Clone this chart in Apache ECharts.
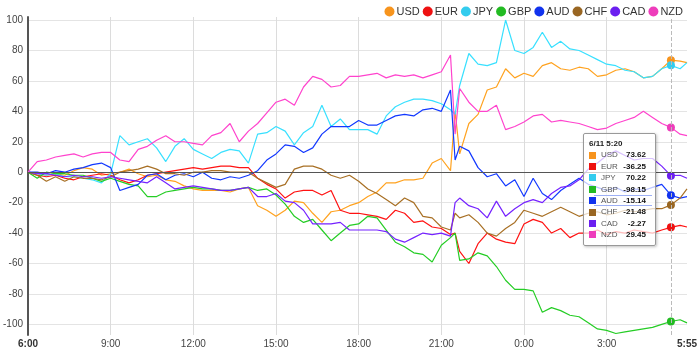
<!DOCTYPE html>
<html>
<head>
<meta charset="utf-8">
<script src="https://cdn.jsdelivr.net/npm/echarts@6/dist/echarts.min.js"></script>
<style>
  html, body { margin: 0; padding: 0; background: #fff; }
  #chart { width: 700px; height: 354px; }
</style>
</head>
<body>
<div id="chart"></div>
<script>
// minutes after 6:00 (6/10 6:00 .. 6/11 5:55)
const minutes = [0, 20, 40, 60, 80, 100, 120, 140, 160, 180, 200, 220, 240, 260, 280, 300, 320, 340, 360,
  380, 400, 420, 440, 460, 480, 500, 520, 540, 560, 580, 600, 620, 640, 660, 680, 700, 720,
  740, 760, 780, 800, 820, 840, 860, 880, 900, 920, 930,
  940, 960, 980, 1000, 1020, 1040, 1060, 1080,
  1100, 1120, 1140, 1160, 1180, 1200, 1220, 1240, 1260, 1280, 1300, 1320, 1340, 1360, 1380, 1400, 1420,
  1435];

const usd = [0, -1, -2, -1, -2, 1, 3, 2, -2, -1, 0, 2, -1, -3, -2, -5, -6, -9, -11,
  -12, -12, -12, -13, -11, -10, -22, -25, -29, -25, -19, -20, -27, -33, -26, -25, -22, -20,
  -16, -13, -7, -7, -5, -5, -4, 6, 9, 1, 40,
  12, 32, 38, 54, 56, 68, 62, 65,
  63, 70, 72, 68, 67, 69, 68, 63, 64, 67, 68, 66, 62, 63, 68, 73.62, 73,
  72];
const eur = [0, -2, -3, -2, -4, -5, -3, -2, -1, -2, -5, -7, -5, -2, -1, 0, 1, 2, 3,
  2, 3, 4, 4, 3, 3, -4, -8, -11, -17, -13, -12, -12, -15, -12, -25, -27, -27,
  -28, -29, -31, -25, -27, -33, -32, -36, -37, -41, -40,
  -52, -60, -47, -40, -44, -46, -47, -34,
  -31, -33, -40, -37, -43, -40, -40, -38, -41, -39, -40, -38, -39, -40, -38, -36.25, -35,
  -36];
const jpy = [0, -1, -2, -1, -3, -3, -4, -5, -7, -1, 24, 18, 20, 22, 16, 7, 17, 22, 15,
  12, 9, 13, 15, 14, 6, 25, 26, 30, 27, 18, 26, 30, 44, 30, 35, 28, 28,
  28, 25, 37, 43, 46, 48, 48, 47, 45, 41, 38,
  57, 78, 71, 70, 72, 100, 80, 78,
  82, 92, 82, 86, 81, 80, 77, 74, 71, 70, 67, 66, 62, 63, 68, 70.22, 68,
  72];
const gbp = [0, -4, 0, -1, -1, -2, -2, -4, -6, -4, -6, -8, -9, -16, -16, -13, -12, -11, -10,
  -11, -11, -12, -12, -11, -10, -12, -11, -15, -21, -29, -33, -31, -38, -45, -40, -35, -34,
  -29, -30, -38, -46, -49, -53, -54, -59, -48, -43, -40,
  -58, -57, -53, -55, -62, -71, -77, -77,
  -78, -92, -89, -91, -94, -95, -99, -103, -104, -106, -105, -104, -103, -102, -100, -98.15, -97,
  -99];
const aud = [0, 0, -1, 1, 0, 2, 3, 5, 6, 3, -12, -10, -8, -2, -1, -5, -2, -1, -3,
  0, -4, -5, -3, -4, -2, 1, 8, 12, 18, 17, 13, 16, 25, 30, 30, 30, 34,
  31, 31, 34, 37, 38, 37, 41, 42, 40, 54, 8,
  17, 14, 3, -3, -1, -9, -5, -16,
  -4, -14, -18, -12, -8, -4, -8, -10, -12, -10, -13, -11, -12, -10, -8, -15.14, -17,
  -16];
const chf = [0, -2, -6, -3, -6, -3, -4, -4, -5, -3, 0, 1, 2, 4, 2, -1, -1, -2, 0,
  0, 1, 1, 0, 0, 0, -4, -7, -10, -8, 2, 4, 4, 2, -2, -4, -2, -6,
  -11, -14, -18, -22, -17, -20, -29, -30, -36, -38, -27,
  -30, -28, -33, -40, -42, -37, -33, -25,
  -27, -29, -26, -23, -26, -29, -27, -26, -28, -27, -25, -26, -25, -24, -24, -21.48, -17,
  -11];
const cad = [0, -1, -1, -2, -3, -2, -3, -3, -4, -3, -4, -5, -6, -7, -3, -7, -11, -10, -9,
  -10, -11, -12, -12, -11, -10, -16, -16, -14, -19, -20, -25, -34, -34, -34, -33, -38, -38,
  -38, -38, -39, -44, -46, -43, -40, -41, -40, -42, -20,
  -17, -22, -24, -30, -19, -29, -24, -20,
  -18, -20, -14, -10, -9, -5, 2, 6, 11, 14, 11, 8, 9, 9, 4, -2.27, -2,
  -4];
const nzd = [0, 7, 8, 10, 11, 12, 10, 12, 13, 13, 8, 7, 15, 17, 21, 24, 20, 20, 19,
  18, 24, 26, 32, 20, 27, 32, 39, 46, 48, 44, 56, 63, 61, 56, 57, 63, 63,
  64, 65, 62, 64, 63, 64, 62, 64, 66, 77, 25,
  55, 46, 40, 40, 44, 28, 30, 33,
  37, 38, 33, 34, 33, 32, 30, 28, 29, 32, 34, 36, 40, 36, 32, 29.45, 25,
  24];

const names = ['USD', 'EUR', 'JPY', 'GBP', 'AUD', 'CHF', 'CAD', 'NZD'];
const colors = ['#f7941d', '#ee1111', '#33ccee', '#22bb22', '#1133ee', '#996622', '#6b1ff0', '#ee3dbb'];
const seriesValues = [usd, eur, jpy, gbp, aud, chf, cad, nzd];

const yTicks = [-100, -80, -60, -40, -20, 0, 20, 40, 60, 80, 100];
const xLabelMinutes = [0, 180, 360, 540, 720, 900, 1080, 1260, 1435];
const xGridMinutes = [180, 360, 540, 720, 900, 1080, 1260];
const tipIndex = 71; // 6/11 5:20

function clock(m) {
  var t = (360 + m) % 1440;
  var h = Math.floor(t / 60), mm = t % 60;
  return h + ':' + (mm < 10 ? '0' : '') + mm;
}

var font = '"Liberation Sans", Arial, sans-serif';
var cssFont = "'Liberation Sans', Arial, sans-serif";
var chart = echarts.init(document.getElementById('chart'));

var series = names.map(function (name, si) {
  var s = {
    name: name,
    type: 'line',
    data: minutes.map(function (m, i) { return [m, seriesValues[si][i]]; }),
    showSymbol: false,
    symbol: 'circle',
    symbolSize: 8,
    color: colors[si],
    itemStyle: {color: colors[si], borderWidth: 0},
    lineStyle: {width: 1.2, color: colors[si]},
    emphasis: {scale: false, itemStyle: {borderWidth: 0}, lineStyle: {width: 1.2}},
    animation: false
  };
  if (si === 0) {
    // dark zero line
    s.markLine = {
      silent: true,
      symbol: 'none',
      label: {show: false},
      lineStyle: {color: '#555', width: 1, type: 'solid'},
      data: [{yAxis: 0}]
    };
  }
  return s;
});

function tipRow(p) {
  var rule = '';
  if (p.seriesName === 'AUD') {
    // hovered series gets a rule above and below its row
    rule = '<span style="position:absolute;left:5px;right:-6px;top:0;border-top:1px solid #9db0f5"></span>' +
      '<span style="position:absolute;left:5px;right:-6px;bottom:0;border-top:1px solid #9db0f5"></span>';
  }
  return '<div style="position:relative;height:11.4px;line-height:11.4px">' + rule +
    '<span style="position:absolute;left:0;top:2.2px;width:7px;height:7px;background:' + p.color + '"></span>' +
    '<span style="position:absolute;left:12px;color:#555">' + p.seriesName + '</span>' +
    '<span style="position:absolute;right:0;font-weight:bold;color:#111">' + p.value[1].toFixed(2) + '</span></div>';
}

chart.setOption({
  animation: false,
  backgroundColor: '#fff',
  textStyle: {fontFamily: font},
  grid: {left: 24, right: 12, top: 17, bottom: 19},
  legend: {
    data: names,
    right: 12,
    top: 1,
    icon: 'circle',
    itemWidth: 10,
    itemHeight: 10,
    itemGap: 3,
    textStyle: {fontSize: 11, color: '#333', fontFamily: font, padding: [0, 0, 0, -3]}
  },
  tooltip: {
    trigger: 'axis',
    triggerOn: 'none',
    alwaysShowContent: true,
    position: [583, 133],
    padding: [4, 9, 4, 5],
    backgroundColor: 'rgba(255,255,255,0.72)',
    borderColor: '#999',
    borderWidth: 1,
    extraCssText: 'border-radius:2px;box-shadow:1px 1px 3px rgba(0,0,0,0.25);',
    axisPointer: {type: 'line', lineStyle: {color: '#bbb', width: 1}},
    formatter: function (params) {
      var html = '<div style="font-weight:bold;color:#222;height:11.4px;line-height:11.4px">6/11 ' + clock(params[0].value[0]) + '</div>';
      params.forEach(function (p) { html += tipRow(p); });
      return '<div style="width:57px;font-size:8px;font-family:' + cssFont + '">' + html + '</div>';
    }
  },
  xAxis: {
    type: 'value',
    min: 0,
    max: 1435,
    axisLine: {show: false},
    axisTick: {show: false, customValues: xGridMinutes},
    splitLine: {show: true, lineStyle: {color: '#dcdcdc', width: 1}},
    axisLabel: {
      customValues: xLabelMinutes,
      color: '#444',
      fontSize: 10,
      margin: 4,
      formatter: function (v) {
        var s = clock(v);
        return (v === 0 || v === 1435) ? '{b|' + s + '}' : s;
      },
      rich: {b: {fontWeight: 'bold', color: '#333', fontSize: 10}}
    }
  },
  yAxis: {
    type: 'value',
    min: -107,
    max: 102,
    axisLine: {show: true, lineStyle: {color: '#555', width: 2}},
    axisTick: {show: false, customValues: yTicks},
    splitLine: {show: true, lineStyle: {color: '#e4e4e4', width: 1}},
    axisLabel: {customValues: yTicks, color: '#444', fontSize: 10, margin: 5}
  },
  series: series
});

chart.dispatchAction({type: 'showTip', seriesIndex: 0, dataIndex: tipIndex});
</script>
</body>
</html>
